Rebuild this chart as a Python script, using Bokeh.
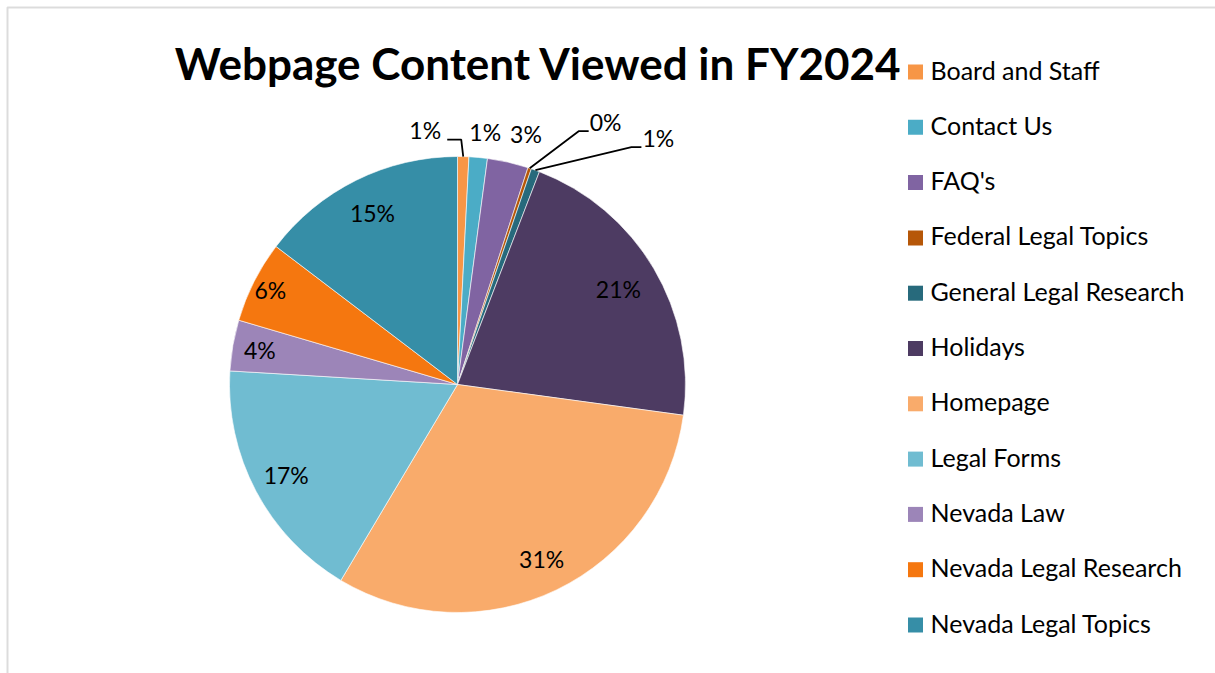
import math
from bokeh.plotting import figure
from bokeh.models import Range1d, BoxAnnotation
from bokeh.core.properties import value
from bokeh.embed import file_html
from bokeh.resources import INLINE

# ---------------- data ----------------
categories = ["Board and Staff", "Contact Us", "FAQ's", "Federal Legal Topics",
              "General Legal Research", "Holidays", "Homepage", "Legal Forms",
              "Nevada Law", "Nevada Legal Research", "Nevada Legal Topics"]
shares = [0.8, 1.3, 2.9, 0.25, 0.6, 21.3, 31.4, 17.4, 3.6, 5.8, 14.65]
colors = ["#F79646", "#4BACC6", "#8064A2", "#B65708", "#276A7C", "#4D3B62",
          "#F9AB6B", "#70BCD1", "#9C85B8", "#F5770F", "#368EA7"]
title_text = "Webpage Content Viewed in FY2024"

# ---------------- layout ----------------
W, H = 1215, 673
CX, CY, R = 457, 384, 228          # pie centre / radius in page pixels
FONT = "Lato"
LABEL_PX = 23
LEGEND_PX = 25
TITLE_PX = 44
# radial placement of inside labels (fraction of radius), by slice index
INSIDE_R = {5: 0.82, 6: 0.85, 7: 0.85, 8: 0.88, 9: 0.92, 10: 0.84}
# outside labels: index -> (dx, dy from slice edge point, leader side)
OUTSIDE = {0: (-38, -27, "left"), 1: (7, -25, None), 2: (18, -28, None),
           3: (76, -46, "right"), 4: (123, -32, "right")}


def Y(py):
    return H - py


p = figure(width=W, height=H, output_backend="svg", toolbar_location=None,
           x_range=Range1d(0, W), y_range=Range1d(0, H), min_border=0)
p.axis.visible = False
p.grid.visible = False
p.outline_line_color = None
p.background_fill_color = "white"
p.border_fill_color = "white"

# chart area border (grey)
p.add_layout(BoxAnnotation(left=7, right=W + 50, top=Y(7), bottom=-50,
                           fill_alpha=0, line_color="#8C8C8C", line_width=2))

total = sum(shares)
cum = 0.0
starts, ends, mids = [], [], []
for s in shares:
    a0 = cum / total
    cum += s
    a1 = cum / total
    starts.append(math.pi / 2 - 2 * math.pi * a0)
    ends.append(math.pi / 2 - 2 * math.pi * a1)
    mids.append(2 * math.pi * (a0 + a1) / 2)   # clockwise from 12 o'clock

p.wedge(x=[CX] * len(shares), y=[Y(CY)] * len(shares), radius=R, radius_units="screen",
        start_angle=starts, end_angle=ends, direction="clock",
        fill_color=colors, line_color="white", line_width=0.6)

labels = [f"{s / total * 100:.0f}%" for s in shares]

in_x, in_y, in_t = [], [], []
out_x, out_y, out_t = [], [], []
for i, (lab, m) in enumerate(zip(labels, mids)):
    if i in OUTSIDE:
        ex = CX + R * math.sin(m)
        ey = CY - R * math.cos(m)
        dx, dy, side = OUTSIDE[i]
        lx, ly = ex + dx, ey + dy
        out_x.append(lx)
        out_y.append(Y(ly))
        out_t.append(lab)
        if side == "left":
            xs = [ex, ex - 2, lx + 22]
            ys = [ey, ly + 10, ly + 10]
        elif side == "right":
            xs = [ex, lx - 27, lx - 17]
            ys = [ey, ly + 9, ly + 9]
        else:
            continue
        p.line(xs, [Y(v) for v in ys], line_color="black", line_width=1.8)
    else:
        r = R * INSIDE_R.get(i, 0.85)
        in_x.append(CX + r * math.sin(m))
        in_y.append(Y(CY - r * math.cos(m)))
        in_t.append(lab)

p.text(x=in_x + out_x, y=in_y + out_y, text=in_t + out_t, text_align="center",
       text_baseline="middle", text_font=value(FONT),
       text_font_size=f"{LABEL_PX}px", text_color="#000000")

# legend
LEG_X, LEG_Y0, LEG_DY = 915, 71.5, 55.3
ly = [Y(LEG_Y0 + i * LEG_DY) for i in range(len(categories))]
p.scatter(x=[LEG_X] * len(categories), y=ly, marker="square", size=15,
          fill_color=colors, line_color=None)
p.text(x=[930] * len(categories), y=[v + 2.5 for v in ly], text=categories,
       text_align="left", text_baseline="middle", text_font=value(FONT),
       text_font_size=f"{LEGEND_PX}px", text_color="#000000")

# title
p.text(x=[538], y=[Y(62.5)], text=[title_text], text_align="center",
       text_baseline="middle", text_font=value(FONT), text_font_style="bold",
       text_font_size=f"{TITLE_PX}px", text_color="#000000")

open("out.html", "w").write(file_html(p, INLINE))
